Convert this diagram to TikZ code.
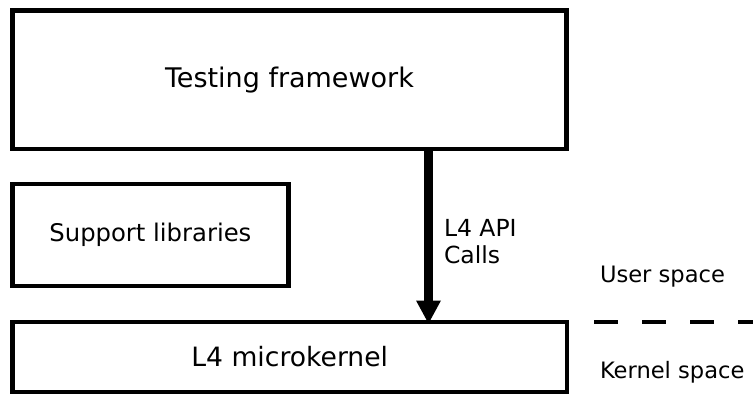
\documentclass[tikz,border=0pt]{standalone}
\usepackage{fontspec}
\setmainfont{DejaVu Sans}
\usetikzlibrary{arrows.meta}
\begin{document}
\begin{tikzpicture}[x=1pt,y=-1pt,
  box/.style={draw=black,line width=4.5pt,fill=white,outer sep=0pt,inner sep=0pt,anchor=center},
  lbl/.style={anchor=base west,inner sep=0pt,outer sep=0pt},
  callarrow/.style={line width=8.4pt,-{Triangle[width=25pt,length=23pt,line width=0pt]}},
  sepline/.style={line width=4.5pt,dash pattern=on 24pt off 24pt}]
\useasboundingbox (0,0) rectangle (753,394);
\node[box,minimum width=554pt,minimum height=138.5pt,font=\fontsize{27}{32}\selectfont] (tf) at (289.5,79.75) {Testing framework};
\node[box,minimum width=275.8pt,minimum height=101.8pt,font=\fontsize{24.3}{29}\selectfont] (sl) at (150.4,235) {Support libraries};
\node[box,minimum width=554.5pt,minimum height=70pt,font=\fontsize{26.6}{31}\selectfont] (mk) at (289.75,357) {L4 microkernel};
\coordinate (ax) at (428.5,0);
\coordinate (mkn) at (428.5,323.5);
\draw[callarrow] (tf.south -| ax) -- (mkn);
\node[lbl,font=\fontsize{23.5}{27}\selectfont] (api) at (444,236.7) {L4 API};
\node[lbl,font=\fontsize{23.5}{27}\selectfont] (calls) at (444,263.3) {Calls};
\node[lbl,font=\fontsize{22.6}{26}\selectfont] (us) at (600,282) {User space};
\node[lbl,font=\fontsize{22.6}{26}\selectfont] (ks) at (600,378) {Kernel space};
\coordinate (d0) at (594,322);
\coordinate (d1) at (753,322);
\draw[sepline] (d0) -- (d1);
\end{tikzpicture}
\end{document}
